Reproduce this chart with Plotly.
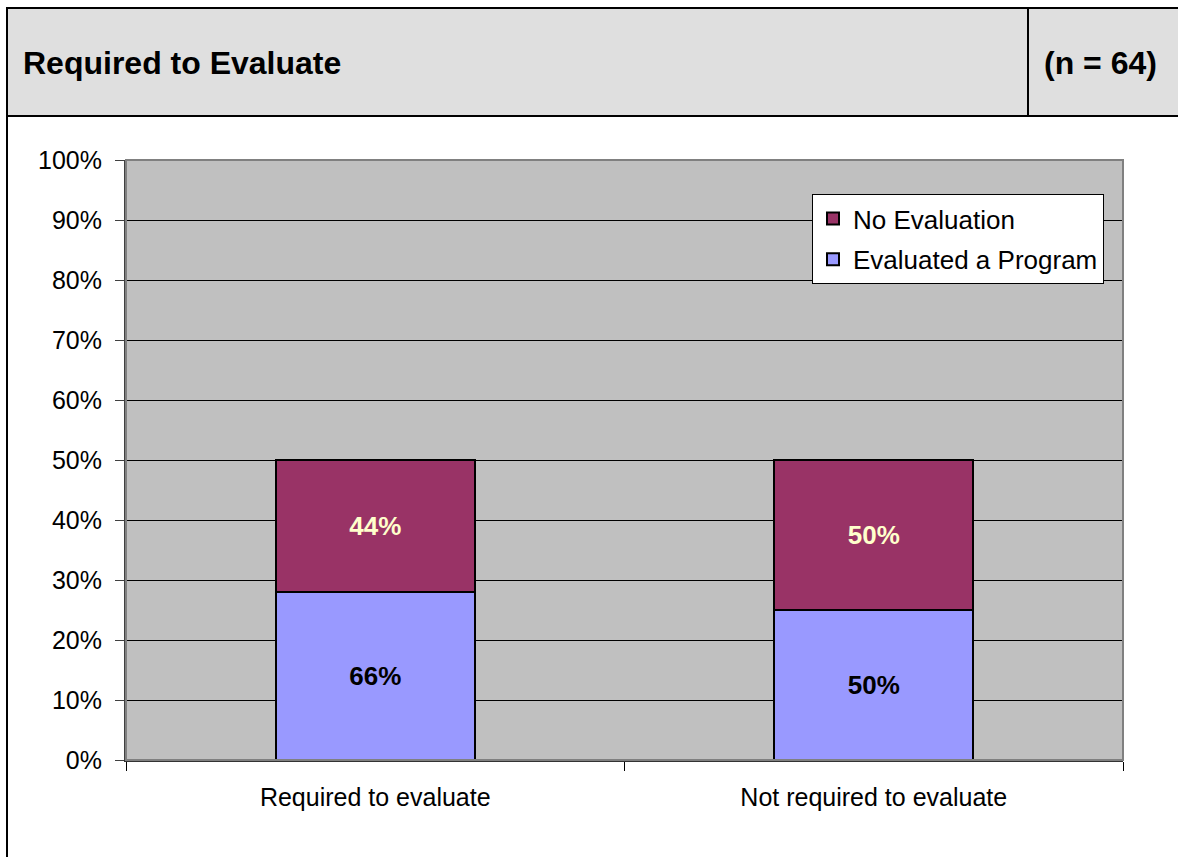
import plotly.graph_objects as go

# Groups and stacked segment heights (percent of axis)
categories = ["Required to evaluate", "Not required to evaluate"]
evaluated_height = [28, 25]
no_eval_height = [22, 25]

# Within-group shares printed on the segments
evaluated_labels = ["66%", "50%"]
no_eval_labels = ["44%", "50%"]

title_text = "Required to Evaluate"
sample_text = "(n = 64)"

FONT = "Arial, Liberation Sans, sans-serif"
W, H = 1178, 857
L, R, T, B = 126, 1123, 160, 760  # plot area in pixels


def px(x):
    return (x - L) / (R - L)


def py(y):
    return (B - y) / (B - T)


fig = go.Figure()
fig.add_trace(go.Bar(
    x=categories, y=evaluated_height, name="Evaluated a Program",
    text=evaluated_labels, textposition="inside", insidetextanchor="middle",
    textangle=0, constraintext="none",
    textfont=dict(family=FONT, size=26, color="#000000", weight="bold"),
    marker=dict(color="#9999FF", line=dict(color="#000000", width=2)),
    legendgroup="b", legendrank=2, hoverinfo="skip",
))
fig.add_trace(go.Bar(
    x=categories, y=no_eval_height, name="No Evaluation",
    text=no_eval_labels, textposition="inside", insidetextanchor="middle",
    textangle=0, constraintext="none",
    textfont=dict(family=FONT, size=26, color="#FFFFCC", weight="bold"),
    marker=dict(color="#993366", line=dict(color="#000000", width=2)),
    legendgroup="a", legendrank=1, hoverinfo="skip",
))

shapes = [
    # header band
    dict(type="rect", xref="paper", yref="paper", x0=px(7), x1=px(1200),
         y0=py(116), y1=py(8), fillcolor="#DFDFDF",
         line=dict(color="#000000", width=2), layer="below"),
    # outer frame below the header
    dict(type="rect", xref="paper", yref="paper", x0=px(7), x1=px(1200),
         y0=py(900), y1=py(116), fillcolor="rgba(0,0,0,0)",
         line=dict(color="#000000", width=2), layer="below"),
    # header divider
    dict(type="line", xref="paper", yref="paper", x0=px(1028), x1=px(1028),
         y0=py(116), y1=py(8), line=dict(color="#000000", width=2)),
    # plot-area frame
    dict(type="rect", xref="paper", yref="paper", x0=0, x1=1, y0=0, y1=1,
         line=dict(color="#808080", width=2), layer="above"),
]

annotations = [
    dict(text=f"<b>{title_text}</b>", xref="paper", yref="paper",
         x=px(21), y=py(63), xanchor="left", yanchor="middle", showarrow=False,
         font=dict(family=FONT, size=32, color="#000000")),
    dict(text=f"<b>{sample_text}</b>", xref="paper", yref="paper",
         x=px(1042), y=py(63), xanchor="left", yanchor="middle", showarrow=False,
         font=dict(family=FONT, size=32, color="#000000")),
]

fig.update_layout(
    width=W, height=H,
    margin=dict(l=L, r=W - R, t=T, b=H - B, pad=0),
    barmode="stack", bargap=0.6,
    paper_bgcolor="#FFFFFF", plot_bgcolor="#C0C0C0",
    font=dict(family=FONT, size=24, color="#000000"),
    shapes=shapes, annotations=annotations,
    legend=dict(
        x=px(812), y=py(194), xanchor="left", yanchor="top",
        bgcolor="#FFFFFF", bordercolor="#000000", borderwidth=1,
        font=dict(family=FONT, size=26, color="#000000"),
        traceorder="grouped", tracegroupgap=4,
    ),
    xaxis=dict(
        showgrid=False, showline=True, linecolor="#333333", linewidth=2,
        ticks="outside", ticklen=9, tickcolor="#000000", tickson="boundaries",
        ticklabelstandoff=14,
        tickfont=dict(family=FONT, size=25, color="#000000"),
        fixedrange=True,
    ),
    yaxis=dict(
        range=[0, 100], dtick=10, ticksuffix="%",
        showgrid=True, gridcolor="#000000", gridwidth=1,
        showline=True, linecolor="#404040", linewidth=2,
        ticks="outside", ticklen=9, tickcolor="#404040",
        ticklabelstandoff=8,
        tickfont=dict(family=FONT, size=25, color="#000000"),
        zeroline=False, fixedrange=True,
    ),
)

fig.write_html("out.html", config=dict(displayModeBar=False))
